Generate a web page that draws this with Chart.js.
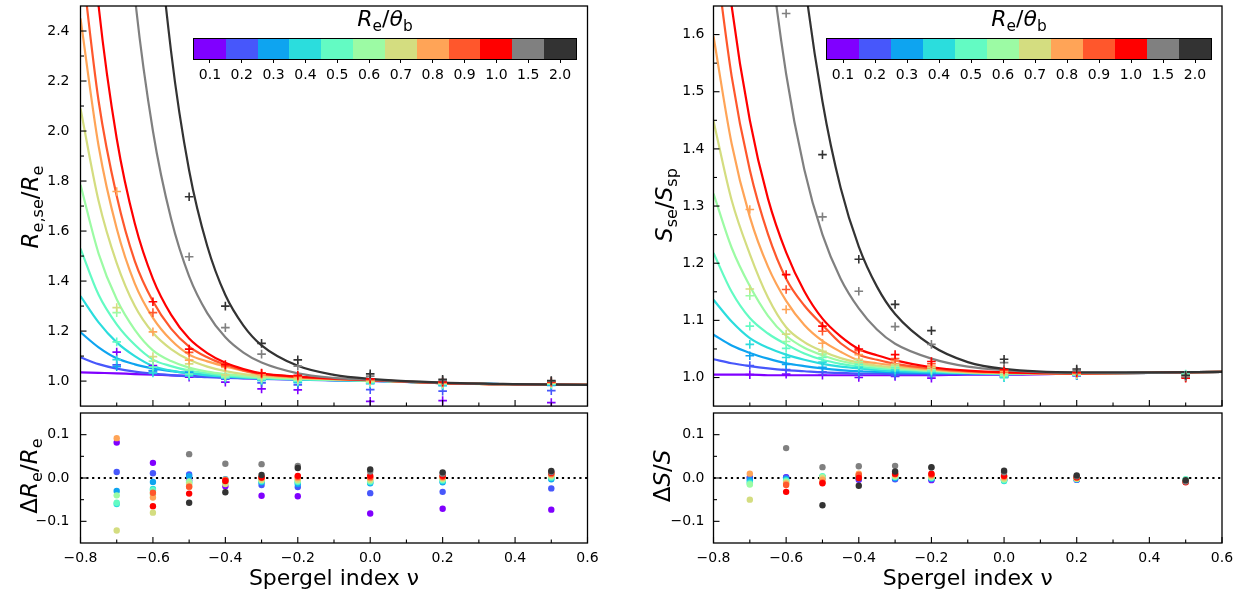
<!DOCTYPE html>
<html>
<head>
<meta charset="utf-8">
<script src="https://cdn.jsdelivr.net/npm/chart.js@4.4.1/dist/chart.umd.min.js"></script>
<style>
  body { margin: 0; background: #fff; width: 1249px; height: 597px; overflow: hidden; position: relative;
         font-family: 'DejaVu Sans', sans-serif; color: #000; }
  canvas { position: absolute; }
  .ylab { position: absolute; transform: translate(-50%, -50%) rotate(-90deg); white-space: nowrap; font-size: 23px; }
  .cbtitle { position: absolute; transform: translateX(-50%); white-space: nowrap; font-size: 22px; top: 6px; }
  i { font-style: italic; }
  sub { font-size: 70%; vertical-align: -0.3em; line-height: 0; font-style: normal; }
  .cbar { position: absolute; top: 39px; height: 20px; display: flex; outline: 1.3px solid #000; }
  .cbar div { flex: 1; }
  .cbtick { position: absolute; top: 59px; width: 1px; height: 4px; background: #000; }
  .cblab { position: absolute; top: 66px; transform: translateX(-50%); font-size: 14px; }
</style>
</head>
<body>
<canvas id="radiusTop" width="600" height="412" style="left:0;top:0"></canvas>
<canvas id="radiusRes" width="600" height="188" style="left:0;top:409px"></canvas>
<canvas id="fluxTop" width="619" height="412" style="left:630px;top:0"></canvas>
<canvas id="fluxRes" width="619" height="188" style="left:630px;top:409px"></canvas>

<div class="ylab" style="left:30px;top:207px"><i>R</i><sub>e,se</sub>/<i>R</i><sub>e</sub></div>
<div class="ylab" style="left:29px;top:476px">Δ<i>R</i><sub>e</sub>/<i>R</i><sub>e</sub></div>
<div class="ylab" style="left:664px;top:205px"><i>S</i><sub>se</sub>/<i>S</i><sub>sp</sub></div>
<div class="ylab" style="left:662px;top:476px">Δ<i>S</i>/<i>S</i></div>

<script>
// Re/theta_b values and their colours
const ratioLabels = ['0.1', '0.2', '0.3', '0.4', '0.5', '0.6', '0.7', '0.8', '0.9', '1.0', '1.5', '2.0'];
const ratioColors = ['#8000ff', '#4757fb', '#0ea4f0', '#2bdddd', '#63fbc3', '#9cfba4',
                     '#d4dd80', '#ffa457', '#ff572c', '#ff0000', '#808080', '#333333'];

// Spergel index grid for the model curves, and the fitted indices
const xGrid = [-0.8, -0.75, -0.7, -0.65, -0.6, -0.55, -0.5, -0.45, -0.4, -0.35, -0.3, -0.2, -0.1, 0, 0.2, 0.4, 0.6];
const xFit = [-0.7, -0.6, -0.5, -0.4, -0.3, -0.2, 0, 0.2, 0.5];
const xRange = [-0.8, 0.6];

// Re,se/Re model curves (one row per Re/theta_b)
const radiusCurves = [
  [1.035, 1.033, 1.031, 1.028, 1.026, 1.023, 1.021, 1.018, 1.015, 1.012, 1.010, 1.007, 1.004, 1.001, 0.992, 0.987, 0.985],
  [1.095, 1.068, 1.050, 1.038, 1.030, 1.024, 1.019, 1.016, 1.013, 1.011, 1.009, 1.006, 1.003, 1.001, 0.992, 0.987, 0.985],
  [1.195, 1.135, 1.091, 1.067, 1.051, 1.040, 1.032, 1.025, 1.020, 1.016, 1.013, 1.008, 1.004, 1.002, 0.992, 0.987, 0.985],
  [1.340, 1.235, 1.155, 1.100, 1.060, 1.042, 1.031, 1.023, 1.018, 1.014, 1.011, 1.007, 1.004, 1.002, 0.992, 0.987, 0.985],
  [1.530, 1.345, 1.227, 1.145, 1.086, 1.060, 1.042, 1.031, 1.023, 1.017, 1.013, 1.008, 1.005, 1.002, 0.992, 0.987, 0.985],
  [1.785, 1.510, 1.327, 1.205, 1.123, 1.080, 1.054, 1.038, 1.028, 1.021, 1.016, 1.010, 1.006, 1.003, 0.992, 0.987, 0.985],
  [2.090, 1.720, 1.472, 1.300, 1.193, 1.128, 1.085, 1.058, 1.040, 1.028, 1.020, 1.012, 1.007, 1.003, 0.992, 0.987, 0.985],
  [2.450, 1.940, 1.610, 1.390, 1.253, 1.164, 1.106, 1.079, 1.059, 1.041, 1.026, 1.015, 1.008, 1.004, 0.992, 0.987, 0.985],
  [2.720, 2.120, 1.740, 1.480, 1.319, 1.210, 1.138, 1.095, 1.065, 1.043, 1.029, 1.017, 1.009, 1.004, 0.992, 0.987, 0.985],
  [3.300, 2.500, 1.970, 1.630, 1.409, 1.266, 1.170, 1.112, 1.073, 1.048, 1.031, 1.018, 1.010, 1.004, 0.992, 0.987, 0.985],
  [6.65, 4.67, 3.38, 2.54, 2.00, 1.65, 1.419, 1.272, 1.175, 1.114, 1.074, 1.031, 1.013, 1.005, 0.993, 0.987, 0.985],
  [13.2, 8.9, 6.0, 4.2, 3.05, 2.32, 1.842, 1.54, 1.344, 1.222, 1.143, 1.061, 1.025, 1.009, 0.994, 0.988, 0.985]
];

// Re,se/Re from the Sersic fits at xFit
const radiusFits = [
  [1.116, 1.062, 1.016, 0.996, 0.969, 0.965, 0.919, 0.922, 0.914],
  [1.065, 1.041, 1.027, 1.008, 0.993, 0.985, 0.966, 0.960, 0.962],
  [1.058, 1.042, 1.036, 1.017, 1.003, 0.994, 0.990, 0.982, 0.983],
  [1.086, 1.033, 1.021, 1.012, 1.003, 0.997, 0.992, 0.985, 0.986],
  [1.157, 1.056, 1.028, 1.015, 1.007, 1.000, 0.994, 0.987, 0.988],
  [1.274, 1.080, 1.046, 1.018, 1.011, 1.004, 0.997, 0.989, 0.990],
  [1.294, 1.098, 1.069, 1.025, 1.016, 1.008, 0.999, 0.991, 0.992],
  [1.758, 1.197, 1.084, 1.055, 1.026, 1.015, 1.004, 0.993, 0.994],
  [null, 1.274, 1.115, 1.060, 1.031, 1.020, 1.006, 0.995, 0.996],
  [null, 1.317, 1.128, 1.066, 1.032, 1.023, 1.009, 0.997, 0.998],
  [null, null, 1.497, 1.214, 1.108, 1.060, 1.020, 1.003, 1.000],
  [null, null, 1.737, 1.300, 1.151, 1.085, 1.029, 1.007, 1.002]
];

// relative residuals dRe/Re
const radiusResid = [
  [0.082, 0.035, -0.005, -0.019, -0.041, -0.042, -0.082, -0.071, -0.073],
  [0.014, 0.011, 0.008, -0.005, -0.016, -0.021, -0.035, -0.032, -0.024],
  [-0.030, -0.009, 0.004, -0.003, -0.010, -0.014, -0.012, -0.010, -0.003],
  [-0.060, -0.025, -0.010, -0.006, -0.008, -0.010, -0.010, -0.007, 0.000],
  [-0.057, -0.028, -0.013, -0.008, -0.006, -0.008, -0.008, -0.005, 0.002],
  [-0.040, -0.038, -0.008, -0.010, -0.005, -0.006, -0.006, -0.003, 0.004],
  [-0.121, -0.080, -0.015, -0.014, -0.004, -0.004, -0.004, -0.001, 0.006],
  [0.092, -0.045, -0.020, -0.004, 0.000, 0.000, 0.000, 0.001, 0.008],
  [null, -0.034, -0.020, -0.005, 0.002, 0.003, 0.002, 0.003, 0.010],
  [null, -0.065, -0.036, -0.007, 0.001, 0.005, 0.005, 0.005, 0.012],
  [null, null, 0.055, 0.033, 0.032, 0.028, 0.015, 0.010, 0.014],
  [null, null, -0.057, -0.033, 0.007, 0.023, 0.020, 0.013, 0.016]
];

// Sse/Ssp model curves
const fluxCurves = [
  [1.005, 1.005, 1.005, 1.004, 1.004, 1.004, 1.004, 1.004, 1.004, 1.004, 1.004, 1.004, 1.005, 1.005, 1.007, 1.008, 1.010],
  [1.032, 1.025, 1.020, 1.016, 1.013, 1.011, 1.009, 1.008, 1.007, 1.007, 1.006, 1.006, 1.006, 1.006, 1.007, 1.008, 1.010],
  [1.075, 1.056, 1.043, 1.033, 1.025, 1.020, 1.016, 1.013, 1.011, 1.010, 1.009, 1.008, 1.007, 1.006, 1.007, 1.008, 1.010],
  [1.136, 1.098, 1.069, 1.052, 1.040, 1.031, 1.024, 1.019, 1.016, 1.013, 1.011, 1.009, 1.008, 1.007, 1.007, 1.008, 1.010],
  [1.218, 1.150, 1.104, 1.077, 1.058, 1.042, 1.031, 1.024, 1.019, 1.016, 1.014, 1.011, 1.008, 1.007, 1.007, 1.008, 1.010],
  [1.322, 1.227, 1.160, 1.108, 1.073, 1.052, 1.039, 1.029, 1.023, 1.019, 1.016, 1.012, 1.009, 1.007, 1.007, 1.008, 1.010],
  [1.449, 1.310, 1.216, 1.140, 1.088, 1.062, 1.046, 1.034, 1.026, 1.021, 1.018, 1.013, 1.009, 1.008, 1.007, 1.008, 1.010],
  [1.597, 1.409, 1.281, 1.194, 1.134, 1.092, 1.064, 1.045, 1.030, 1.025, 1.021, 1.014, 1.010, 1.008, 1.007, 1.008, 1.010],
  [1.766, 1.527, 1.363, 1.251, 1.173, 1.126, 1.092, 1.060, 1.040, 1.031, 1.024, 1.016, 1.011, 1.009, 1.007, 1.008, 1.010],
  [1.940, 1.650, 1.450, 1.313, 1.219, 1.151, 1.103, 1.072, 1.050, 1.039, 1.030, 1.018, 1.012, 1.009, 1.007, 1.008, 1.010],
  [3.46, 2.67, 2.14, 1.776, 1.531, 1.364, 1.250, 1.173, 1.121, 1.084, 1.059, 1.033, 1.019, 1.013, 1.008, 1.008, 1.010],
  [5.6, 4.15, 3.16, 2.49, 2.02, 1.70, 1.483, 1.332, 1.229, 1.159, 1.111, 1.056, 1.027, 1.015, 1.009, 1.009, 1.010]
];

// Sse/Ssp from the fits at xFit
const fluxFits = [
  [1.005, 1.006, 1.004, 1.000, 1.002, 0.999, 1.002, 1.003, 1.003],
  [1.021, 1.014, 1.010, 1.005, 1.003, 1.003, 1.002, 1.003, 1.003],
  [1.038, 1.023, 1.018, 1.011, 1.009, 1.007, 1.000, 1.004, 1.004],
  [1.058, 1.035, 1.027, 1.018, 1.013, 1.009, 1.000, 1.004, 1.005],
  [1.090, 1.051, 1.035, 1.023, 1.017, 1.012, 1.002, 1.005, 1.006],
  [1.143, 1.063, 1.041, 1.028, 1.020, 1.014, 1.004, 1.005, 1.004],
  [1.155, 1.076, 1.046, 1.032, 1.023, 1.017, 1.007, 1.006, 1.003],
  [1.294, 1.119, 1.060, 1.040, 1.029, 1.020, 1.010, 1.007, 1.001],
  [null, 1.154, 1.081, 1.047, 1.033, 1.024, 1.013, 1.008, 1.000],
  [null, 1.180, 1.090, 1.050, 1.040, 1.028, 1.014, 1.009, 0.999],
  [null, 1.637, 1.281, 1.151, 1.089, 1.058, 1.026, 1.012, 1.001],
  [null, null, 1.390, 1.207, 1.128, 1.082, 1.032, 1.015, 1.004]
];

// relative residuals dS/S
const fluxResid = [
  [0.000, 0.002, 0.000, -0.004, -0.002, -0.005, -0.003, -0.004, -0.006],
  [0.001, 0.001, 0.001, -0.002, -0.003, -0.003, -0.004, -0.004, -0.006],
  [-0.005, -0.002, 0.002, 0.000, 0.000, -0.001, -0.006, -0.003, -0.005],
  [-0.010, -0.005, 0.003, 0.002, 0.002, 0.000, -0.007, -0.003, -0.004],
  [-0.013, -0.007, 0.004, 0.004, 0.003, 0.001, -0.005, -0.002, -0.003],
  [-0.015, -0.009, 0.002, 0.005, 0.004, 0.002, -0.003, -0.002, -0.005],
  [-0.050, -0.011, 0.000, 0.006, 0.005, 0.004, -0.001, -0.001, -0.006],
  [0.010, -0.013, -0.004, 0.010, 0.008, 0.006, 0.002, 0.000, -0.008],
  [null, -0.016, -0.010, 0.007, 0.009, 0.008, 0.004, 0.001, -0.009],
  [null, -0.032, -0.012, 0.000, 0.010, 0.010, 0.005, 0.002, -0.010],
  [null, 0.069, 0.025, 0.027, 0.028, 0.024, 0.013, 0.004, -0.008],
  [null, null, -0.063, -0.018, 0.015, 0.025, 0.017, 0.006, -0.005]
];

// tick positions
const xTicks = [-0.8, -0.6, -0.4, -0.2, 0, 0.2, 0.4, 0.6];
const xMinor = [-0.7, -0.5, -0.3, -0.1, 0.1, 0.3, 0.5];
const radiusTicks = [1.0, 1.2, 1.4, 1.6, 1.8, 2.0, 2.2, 2.4];
const radiusMinor = [1.1, 1.3, 1.5, 1.7, 1.9, 2.1, 2.3];
const fluxTicks = [1.0, 1.1, 1.2, 1.3, 1.4, 1.5, 1.6];
const fluxMinor = [1.05, 1.15, 1.25, 1.35, 1.45, 1.55];
const residTicks = [-0.1, 0.0, 0.1];
const residMinor = [-0.05, 0.05];

Chart.defaults.font.family = "'DejaVu Sans', sans-serif";
Chart.defaults.font.size = 14;
Chart.defaults.color = '#000';

const fmt = v => v.toFixed(1).replace('-', '\u2212');

// box around the axes plus inward ticks
const frameTicks = {
  id: 'frameTicks',
  afterDatasetsDraw(chart, args, o) {
    const { ctx, chartArea: a, scales } = chart;
    const line = (x1, y1, x2, y2) => { ctx.beginPath(); ctx.moveTo(x1, y1); ctx.lineTo(x2, y2); ctx.stroke(); };
    ctx.save();
    ctx.strokeStyle = '#000';
    ctx.lineWidth = 1.1;
    o.xMajor.forEach(v => { const p = scales.x.getPixelForValue(v); line(p, a.bottom, p, a.bottom - 6); });
    o.xMinor.forEach(v => { const p = scales.x.getPixelForValue(v); line(p, a.bottom, p, a.bottom - 3.5); });
    o.yMajor.forEach(v => { const p = scales.y.getPixelForValue(v); line(a.left, p, a.left + 6, p); });
    o.yMinor.forEach(v => { const p = scales.y.getPixelForValue(v); line(a.left, p, a.left + 3.5, p); });
    ctx.lineWidth = 1.3;
    ctx.strokeRect(a.left, a.top, a.right - a.left, a.bottom - a.top);
    ctx.restore();
  }
};

function curveSets(curves) {
  return curves.map((ys, i) => ({
    data: xGrid.map((x, k) => ({ x: x, y: ys[k] })),
    showLine: true,
    borderColor: ratioColors[i],
    borderWidth: 2.2,
    pointRadius: 0,
    cubicInterpolationMode: 'monotone',
    clip: 0,
    order: 100 - i
  }));
}

function pointSets(rows, style, radius, width, baseOrder) {
  return rows.map((ys, i) => ({
    data: xFit.map((x, k) => ys[k] == null ? null : { x: x, y: ys[k] }).filter(p => p),
    showLine: false,
    pointStyle: style,
    pointRadius: radius,
    pointBorderWidth: width,
    pointBorderColor: ratioColors[i],
    pointBackgroundColor: ratioColors[i],
    clip: 0,
    order: baseOrder - i
  }));
}

function yScale(min, max, ticks, axisWidth, pad) {
  return {
    type: 'linear', min: min, max: max,
    grid: { display: false, drawTicks: false },
    border: { display: false },
    ticks: { padding: pad, autoSkip: false, callback: v => fmt(v) },
    afterBuildTicks: s => { s.ticks = ticks.map(v => ({ value: v })); },
    afterFit: s => { s.width = axisWidth; s.paddingTop = 0; s.paddingBottom = 0; }
  };
}

function xScale(showLabels) {
  const sc = {
    type: 'linear', min: xRange[0], max: xRange[1],
    display: showLabels,
    grid: { display: false, drawTicks: false },
    border: { display: false },
    ticks: { padding: 7, autoSkip: false, maxRotation: 0, callback: v => fmt(v) },
    afterBuildTicks: s => { s.ticks = xTicks.map(v => ({ value: v })); }
  };
  if (showLabels) {
    sc.title = { display: true, text: 'Spergel index \u03bd', font: { size: 22 }, padding: { top: 0, bottom: 5 } };
    sc.afterFit = s => { s.height = 54; s.paddingLeft = 0; s.paddingRight = 0; };
  }
  return sc;
}

function makeChart(id, datasets, x, y, padding, yMajor, yMinor) {
  return new Chart(document.getElementById(id), {
    type: 'scatter',
    data: { datasets: datasets },
    options: {
      responsive: false,
      animation: false,
      events: [],
      layout: { padding: padding },
      scales: { x: x, y: y },
      plugins: {
        legend: { display: false },
        tooltip: { enabled: false },
        frameTicks: { xMajor: xTicks, xMinor: xMinor, yMajor: yMajor, yMinor: yMinor }
      }
    },
    plugins: [frameTicks]
  });
}

function zeroLine() {
  return {
    data: xRange.map(x => ({ x: x, y: 0 })),
    showLine: true, borderColor: '#000', borderWidth: 2.2, borderDash: [2.2, 3.6],
    pointRadius: 0, clip: 0, order: 200
  };
}

// left panel: effective radius
makeChart('radiusTop',
  curveSets(radiusCurves).concat(pointSets(radiusFits, 'cross', 4.3, 1.6, 50)),
  xScale(false), yScale(0.9, 2.5, radiusTicks, 80.5, 11),
  { top: 6, right: 12.5, bottom: 3, left: 0 }, radiusTicks, radiusMinor);

makeChart('radiusRes',
  [zeroLine()].concat(pointSets(radiusResid, 'circle', 3.2, 0, 50)),
  xScale(true), yScale(-0.15, 0.15, residTicks, 80.5, 11),
  { top: 0, right: 12.5, bottom: 0, left: 0 }, residTicks, residMinor);

// right panel: flux
makeChart('fluxTop',
  curveSets(fluxCurves).concat(pointSets(fluxFits, 'cross', 4.3, 1.6, 50)),
  xScale(false), yScale(0.95, 1.65, fluxTicks, 83.5, 9),
  { top: 6, right: 27, bottom: 3, left: 0 }, fluxTicks, fluxMinor);

makeChart('fluxRes',
  [zeroLine()].concat(pointSets(fluxResid, 'circle', 3.2, 0, 50)),
  xScale(true), yScale(-0.15, 0.15, residTicks, 83.5, 9),
  { top: 0, right: 27, bottom: 0, left: 0 }, residTicks, residMinor);

// colour bars for Re/theta_b
function colorbar(left, width) {
  const bar = document.createElement('div');
  bar.className = 'cbar';
  bar.style.left = left + 'px';
  bar.style.width = width + 'px';
  ratioColors.forEach(c => {
    const cell = document.createElement('div');
    cell.style.background = c;
    bar.appendChild(cell);
  });
  document.body.appendChild(bar);

  const step = width / ratioLabels.length;
  ratioLabels.forEach((lab, i) => {
    const cx = left + step * (i + 0.5);
    const t = document.createElement('div');
    t.className = 'cbtick';
    t.style.left = (cx - 0.5) + 'px';
    document.body.appendChild(t);
    const l = document.createElement('div');
    l.className = 'cblab';
    l.style.left = cx + 'px';
    l.textContent = lab;
    document.body.appendChild(l);
  });

  const title = document.createElement('div');
  title.className = 'cbtitle';
  title.style.left = (left + width / 2) + 'px';
  title.innerHTML = '<i>R</i><sub>e</sub>/<i>\u03b8</i><sub>b</sub>';
  document.body.appendChild(title);
}

colorbar(194, 382);
colorbar(827, 384);
</script>
</body>
</html>
